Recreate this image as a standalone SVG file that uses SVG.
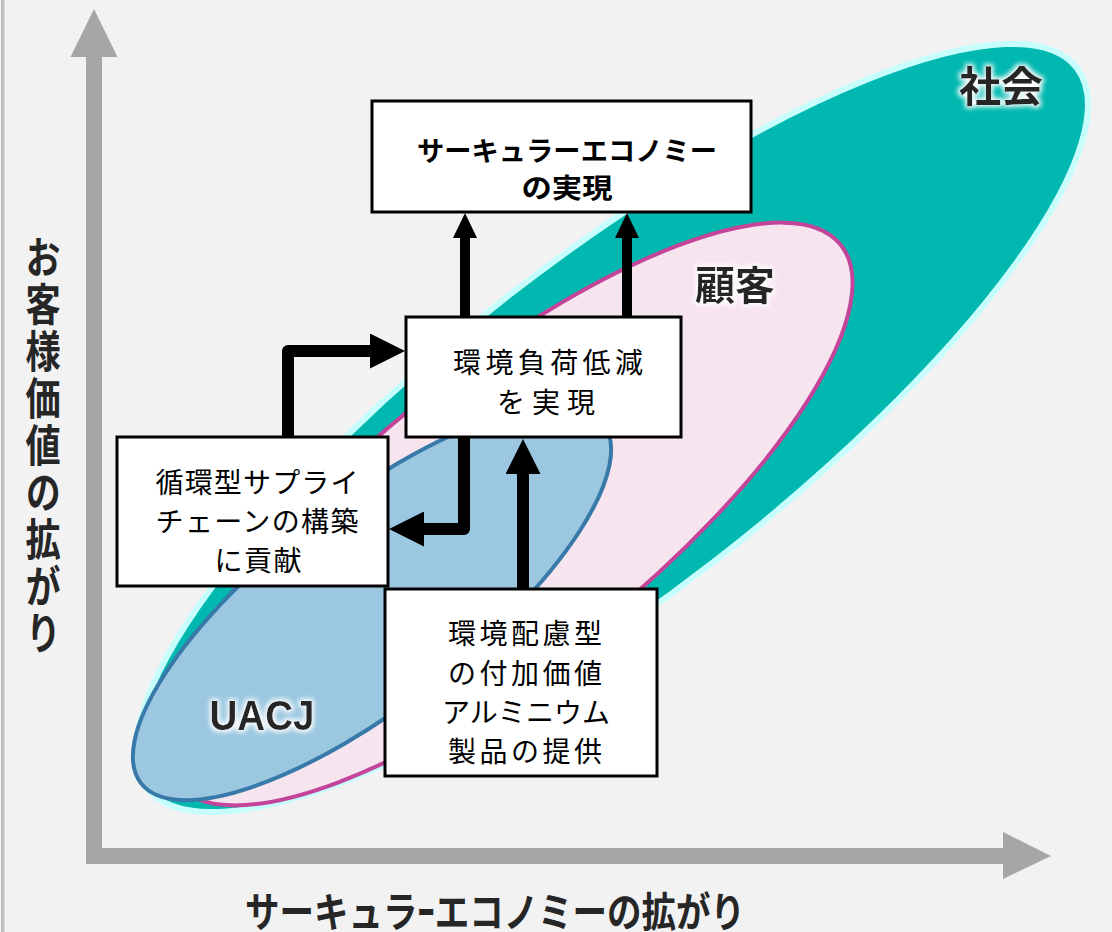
<svg xmlns="http://www.w3.org/2000/svg" width="1112" height="932" viewBox="0 0 1112 932">
<defs>
<style>
.box{fill:#fff;stroke:#000;stroke-width:3}
.bt{font-family:"Noto Sans CJK JP","Noto Sans",sans-serif;font-size:28px;fill:#000;text-anchor:middle;dominant-baseline:central}
.tt{font-family:"Noto Sans CJK JP","Noto Sans",sans-serif;font-size:27px;font-weight:bold;fill:#000;text-anchor:middle;dominant-baseline:central}
.lab{font-family:"Noto Sans CJK JP","Noto Sans",sans-serif;font-weight:bold;fill:#262626;text-anchor:middle;dominant-baseline:central}
.ax{fill:#a6a6a6}
.con{fill:none;stroke:#000;stroke-linejoin:round}
</style>
<marker id="big" markerUnits="userSpaceOnUse" markerWidth="35" markerHeight="35" viewBox="0 0 35 35" refX="0" refY="17.5" orient="auto"><path d="M0,0 L35,17.5 L0,35 z" fill="#000"/></marker>
<marker id="small" markerUnits="userSpaceOnUse" markerWidth="25" markerHeight="24" viewBox="0 0 25 24" refX="0" refY="12" orient="auto"><path d="M0,0 L25,12 L0,24 z" fill="#000"/></marker>
<filter id="glow" x="-30%" y="-30%" width="160%" height="160%">
<feMorphology in="SourceAlpha" operator="dilate" radius="2" result="d"/>
<feGaussianBlur in="d" stdDeviation="2.5" result="b"/>
<feFlood flood-color="#ffffff"/>
<feComposite in2="b" operator="in" result="g"/>
<feMerge><feMergeNode in="g"/><feMergeNode in="SourceGraphic"/></feMerge>
</filter>
</defs>
<rect x="0" y="0" width="1112" height="932" fill="#f2f2f2"/>
<rect x="1" y="0" width="3.5" height="932" fill="#bfbfbf"/>

<g id="axes">
<rect class="ax" x="86" y="56" width="16" height="808"/>
<polygon class="ax" points="94,9 70.5,57 117.5,57"/>
<rect class="ax" x="86" y="848" width="918" height="16"/>
<polygon class="ax" points="1003,832 1051,856 1003,879"/>
</g>

<g id="society">
<ellipse cx="612" cy="428" rx="588" ry="168" transform="rotate(-37.8 612 428)" fill="#00b8b0" stroke="#c6fdfd" stroke-width="6"/>
</g>
<g id="customer">
<ellipse cx="508" cy="514" rx="428" ry="143" transform="rotate(-39 508 514)" fill="#f6e4ef" stroke="#c4449a" stroke-width="4"/>
</g>
<g id="uacj">
<ellipse cx="372" cy="603" rx="293" ry="101" transform="rotate(-38 372 603)" fill="#9bc7e1" stroke="#3779a8" stroke-width="4"/>
</g>

<g id="labels" filter="url(#glow)">
<text class="lab" x="1001" y="83" font-size="42">社会</text>
<text class="lab" x="735" y="283" font-size="40">顧客</text>
<text x="262" y="730" font-family="Liberation Sans, Arial, sans-serif" font-weight="bold" font-size="43" fill="#262626" text-anchor="middle" textLength="105" lengthAdjust="spacingAndGlyphs">UACJ</text>
</g>

<g id="connectors">
<path class="con" stroke-width="10" d="M465,317 V238" marker-end="url(#small)"/>
<path class="con" stroke-width="10" d="M627,317 V238" marker-end="url(#small)"/>
<path class="con" stroke-width="12" d="M523,589 V474" marker-end="url(#big)"/>
<path class="con" stroke-width="12" d="M464,437 V529 H424" marker-end="url(#big)"/>
<path class="con" stroke-width="12" d="M288,437 V351 H370" marker-end="url(#big)"/>
</g>

<g id="node-ce">
<rect class="box" x="372" y="101" width="379" height="111"/>
<text class="tt" x="567" y="149" textLength="300" lengthAdjust="spacingAndGlyphs">サーキュラーエコノミー</text>
<text class="tt" x="567" y="186" textLength="91" lengthAdjust="spacingAndGlyphs">の実現</text>
</g>

<g id="node-env">
<rect class="box" x="406" y="317" width="275" height="120"/>
<text class="bt" x="548" y="361" textLength="190" lengthAdjust="spacing">環境負荷低減</text>
<text class="bt" x="546" y="401" textLength="98" lengthAdjust="spacing">を実現</text>
</g>

<g id="node-supply">
<rect class="box" x="117" y="437" width="271" height="149"/>
<text class="bt" x="257" y="481" textLength="203" lengthAdjust="spacing">循環型サプライ</text>
<text class="bt" x="257" y="520" textLength="203" lengthAdjust="spacing">チェーンの構築</text>
<text class="bt" x="258" y="559" textLength="87" lengthAdjust="spacing">に貢献</text>
</g>

<g id="node-product">
<rect class="box" x="385" y="589" width="272" height="187"/>
<text class="bt" x="525" y="632" textLength="154" lengthAdjust="spacing">環境配慮型</text>
<text class="bt" x="525" y="672" textLength="154" lengthAdjust="spacing">の付加価値</text>
<text class="bt" x="526" y="711" textLength="168" lengthAdjust="spacing">アルミニウム</text>
<text class="bt" x="525" y="750" textLength="154" lengthAdjust="spacing">製品の提供</text>
</g>

<g id="y-label" transform="translate(43,0) scale(0.8,1)">
<text x="0" y="235" font-family="Noto Sans CJK JP, Noto Sans, sans-serif" font-weight="bold" font-size="44" fill="#262626" writing-mode="vertical-rl" letter-spacing="3" dominant-baseline="central">お客様価値の拡がり</text>
</g>

<g id="x-label" transform="translate(495,909) scale(0.8,1)">
<text class="lab" x="0" y="0" font-size="41" textLength="625" lengthAdjust="spacingAndGlyphs">サーキュラｰエコノミーの拡がり</text>
</g>
</svg>
